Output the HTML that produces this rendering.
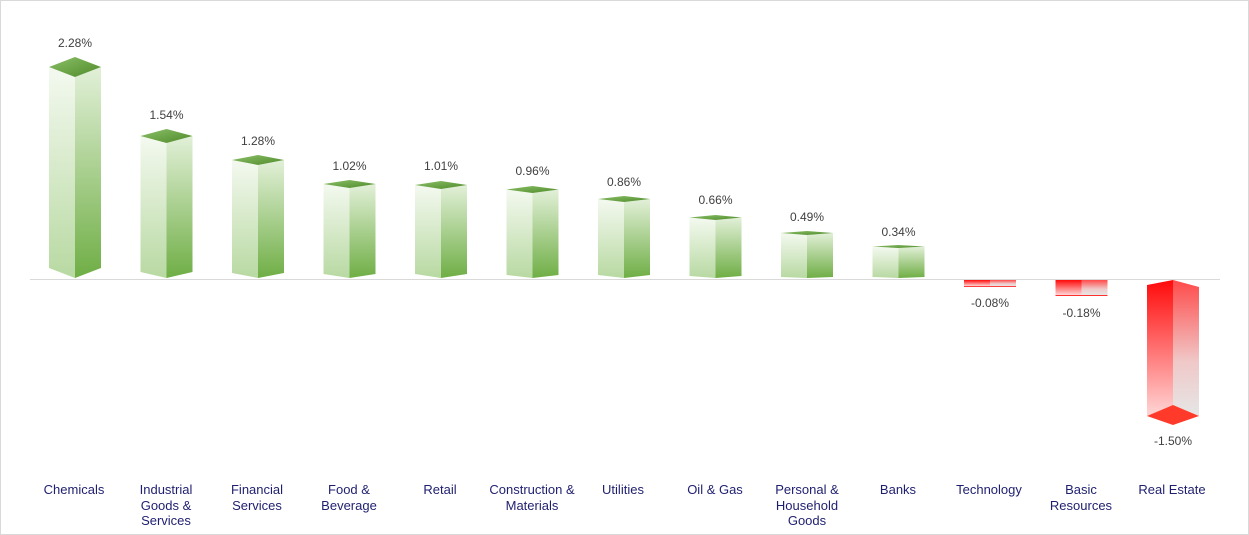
<!DOCTYPE html>
<html><head><meta charset="utf-8"><style>
html,body{margin:0;padding:0;background:#fff;}
svg{display:block;font-family:"Liberation Sans",sans-serif;}
.v{font-size:12px;fill:#404040;text-anchor:middle;}
.c{font-size:13px;fill:#1f1f70;text-anchor:middle;}
</style></head><body>
<svg width="1249" height="535" viewBox="0 0 1249 535">
<defs>
<linearGradient id="gl" x1="0" y1="0" x2="0" y2="1"><stop offset="0" stop-color="#f4f9f0"/><stop offset="1" stop-color="#b8d9a2"/></linearGradient>
<linearGradient id="gr" x1="0" y1="0" x2="0" y2="1"><stop offset="0" stop-color="#e2f0d8"/><stop offset="1" stop-color="#6fae45"/></linearGradient>
<linearGradient id="gt" x1="0" y1="0" x2="1" y2="1"><stop offset="0" stop-color="#8cc068"/><stop offset="1" stop-color="#4e8a2a"/></linearGradient>
<linearGradient id="rl" x1="0" y1="0" x2="0" y2="1"><stop offset="0" stop-color="#ff0a0a"/><stop offset="1" stop-color="#ffd6d6"/></linearGradient>
<linearGradient id="rr" x1="0" y1="0" x2="0" y2="1"><stop offset="0" stop-color="#ff4a4a"/><stop offset="0.6" stop-color="#f0c8c8"/><stop offset="1" stop-color="#e6e6e6"/></linearGradient>
</defs>
<rect x="0.5" y="0.5" width="1248" height="534" fill="#fff" stroke="#d9d9d9"/>
<line x1="30" y1="279.5" x2="1220" y2="279.5" stroke="#d9d9d9"/>

<g transform="translate(75,0)"><polygon points="-26,67 0,77 0,278 -26,268" fill="url(#gl)"/><polygon points="0,77 26,67 26,268 0,278" fill="url(#gr)"/><polygon points="0,57 -26,67 0,77 26,67" fill="url(#gt)"/><text class="v" y="47">2.28%</text></g>
<g transform="translate(166.5,0)"><polygon points="-26,136 0,143 0,278 -26,272" fill="url(#gl)"/><polygon points="0,143 26,136 26,272 0,278" fill="url(#gr)"/><polygon points="0,129 -26,136 0,143 26,136" fill="url(#gt)"/><text class="v" y="119">1.54%</text></g>
<g transform="translate(258,0)"><polygon points="-26,160 0,165 0,278 -26,273" fill="url(#gl)"/><polygon points="0,165 26,160 26,273 0,278" fill="url(#gr)"/><polygon points="0,155 -26,160 0,165 26,160" fill="url(#gt)"/><text class="v" y="145">1.28%</text></g>
<g transform="translate(349.5,0)"><polygon points="-26,184 0,188 0,278 -26,274" fill="url(#gl)"/><polygon points="0,188 26,184 26,274 0,278" fill="url(#gr)"/><polygon points="0,180 -26,184 0,188 26,184" fill="url(#gt)"/><text class="v" y="170">1.02%</text></g>
<g transform="translate(441,0)"><polygon points="-26,185 0,189 0,278 -26,274" fill="url(#gl)"/><polygon points="0,189 26,185 26,274 0,278" fill="url(#gr)"/><polygon points="0,181 -26,185 0,189 26,185" fill="url(#gt)"/><text class="v" y="170">1.01%</text></g>
<g transform="translate(532.5,0)"><polygon points="-26,189.5 0,193 0,278 -26,275" fill="url(#gl)"/><polygon points="0,193 26,189.5 26,275 0,278" fill="url(#gr)"/><polygon points="0,186 -26,189.5 0,193 26,189.5" fill="url(#gt)"/><text class="v" y="175">0.96%</text></g>
<g transform="translate(624,0)"><polygon points="-26,199 0,202 0,278 -26,275" fill="url(#gl)"/><polygon points="0,202 26,199 26,275 0,278" fill="url(#gr)"/><polygon points="0,196 -26,199 0,202 26,199" fill="url(#gt)"/><text class="v" y="186">0.86%</text></g>
<g transform="translate(715.5,0)"><polygon points="-26,217.5 0,220 0,278 -26,276" fill="url(#gl)"/><polygon points="0,220 26,217.5 26,276 0,278" fill="url(#gr)"/><polygon points="0,215 -26,217.5 0,220 26,217.5" fill="url(#gt)"/><text class="v" y="204">0.66%</text></g>
<g transform="translate(807,0)"><polygon points="-26,233 0,235 0,278 -26,277" fill="url(#gl)"/><polygon points="0,235 26,233 26,277 0,278" fill="url(#gr)"/><polygon points="0,231 -26,233 0,235 26,233" fill="url(#gt)"/><text class="v" y="221">0.49%</text></g>
<g transform="translate(898.5,0)"><polygon points="-26,246.5 0,248 0,278 -26,277" fill="url(#gl)"/><polygon points="0,248 26,246.5 26,277 0,278" fill="url(#gr)"/><polygon points="0,245 -26,246.5 0,248 26,246.5" fill="url(#gt)"/><text class="v" y="236">0.34%</text></g>

<g transform="translate(990,0)"><rect x="-26" y="280" width="26" height="6" fill="url(#rl)"/><rect x="0" y="280" width="26" height="6" fill="url(#rr)"/><line x1="-26" y1="286.5" x2="26" y2="286.5" stroke="#ff4040"/><text class="v" y="307">-0.08%</text></g>
<g transform="translate(1081.5,0)"><rect x="-26" y="280" width="26" height="15" fill="url(#rl)"/><rect x="0" y="280" width="26" height="15" fill="url(#rr)"/><line x1="-26" y1="295.5" x2="26" y2="295.5" stroke="#ff3030"/><text class="v" y="317">-0.18%</text></g>
<g transform="translate(1173,0)"><polygon points="-26,285 0,280 0,405 -26,416" fill="url(#rl)"/><polygon points="0,280 26,287 26,416 0,405" fill="url(#rr)"/><polygon points="0,405 -26,416 0,425 26,416" fill="#ff3a2a"/><text class="v" y="445">-1.50%</text></g>

<text class="c" x="74" y="494">Chemicals</text>
<text class="c" x="166" y="494">Industrial</text><text class="c" x="166" y="510">Goods &amp;</text><text class="c" x="166" y="525">Services</text>
<text class="c" x="257" y="494">Financial</text><text class="c" x="257" y="510">Services</text>
<text class="c" x="349" y="494">Food &amp;</text><text class="c" x="349" y="510">Beverage</text>
<text class="c" x="440" y="494">Retail</text>
<text class="c" x="532" y="494">Construction &amp;</text><text class="c" x="532" y="510">Materials</text>
<text class="c" x="623" y="494">Utilities</text>
<text class="c" x="715" y="494">Oil &amp; Gas</text>
<text class="c" x="807" y="494">Personal &amp;</text><text class="c" x="807" y="510">Household</text><text class="c" x="807" y="525">Goods</text>
<text class="c" x="898" y="494">Banks</text>
<text class="c" x="989" y="494">Technology</text>
<text class="c" x="1081" y="494">Basic</text><text class="c" x="1081" y="510">Resources</text>
<text class="c" x="1172" y="494">Real Estate</text>
</svg>
</body></html>
